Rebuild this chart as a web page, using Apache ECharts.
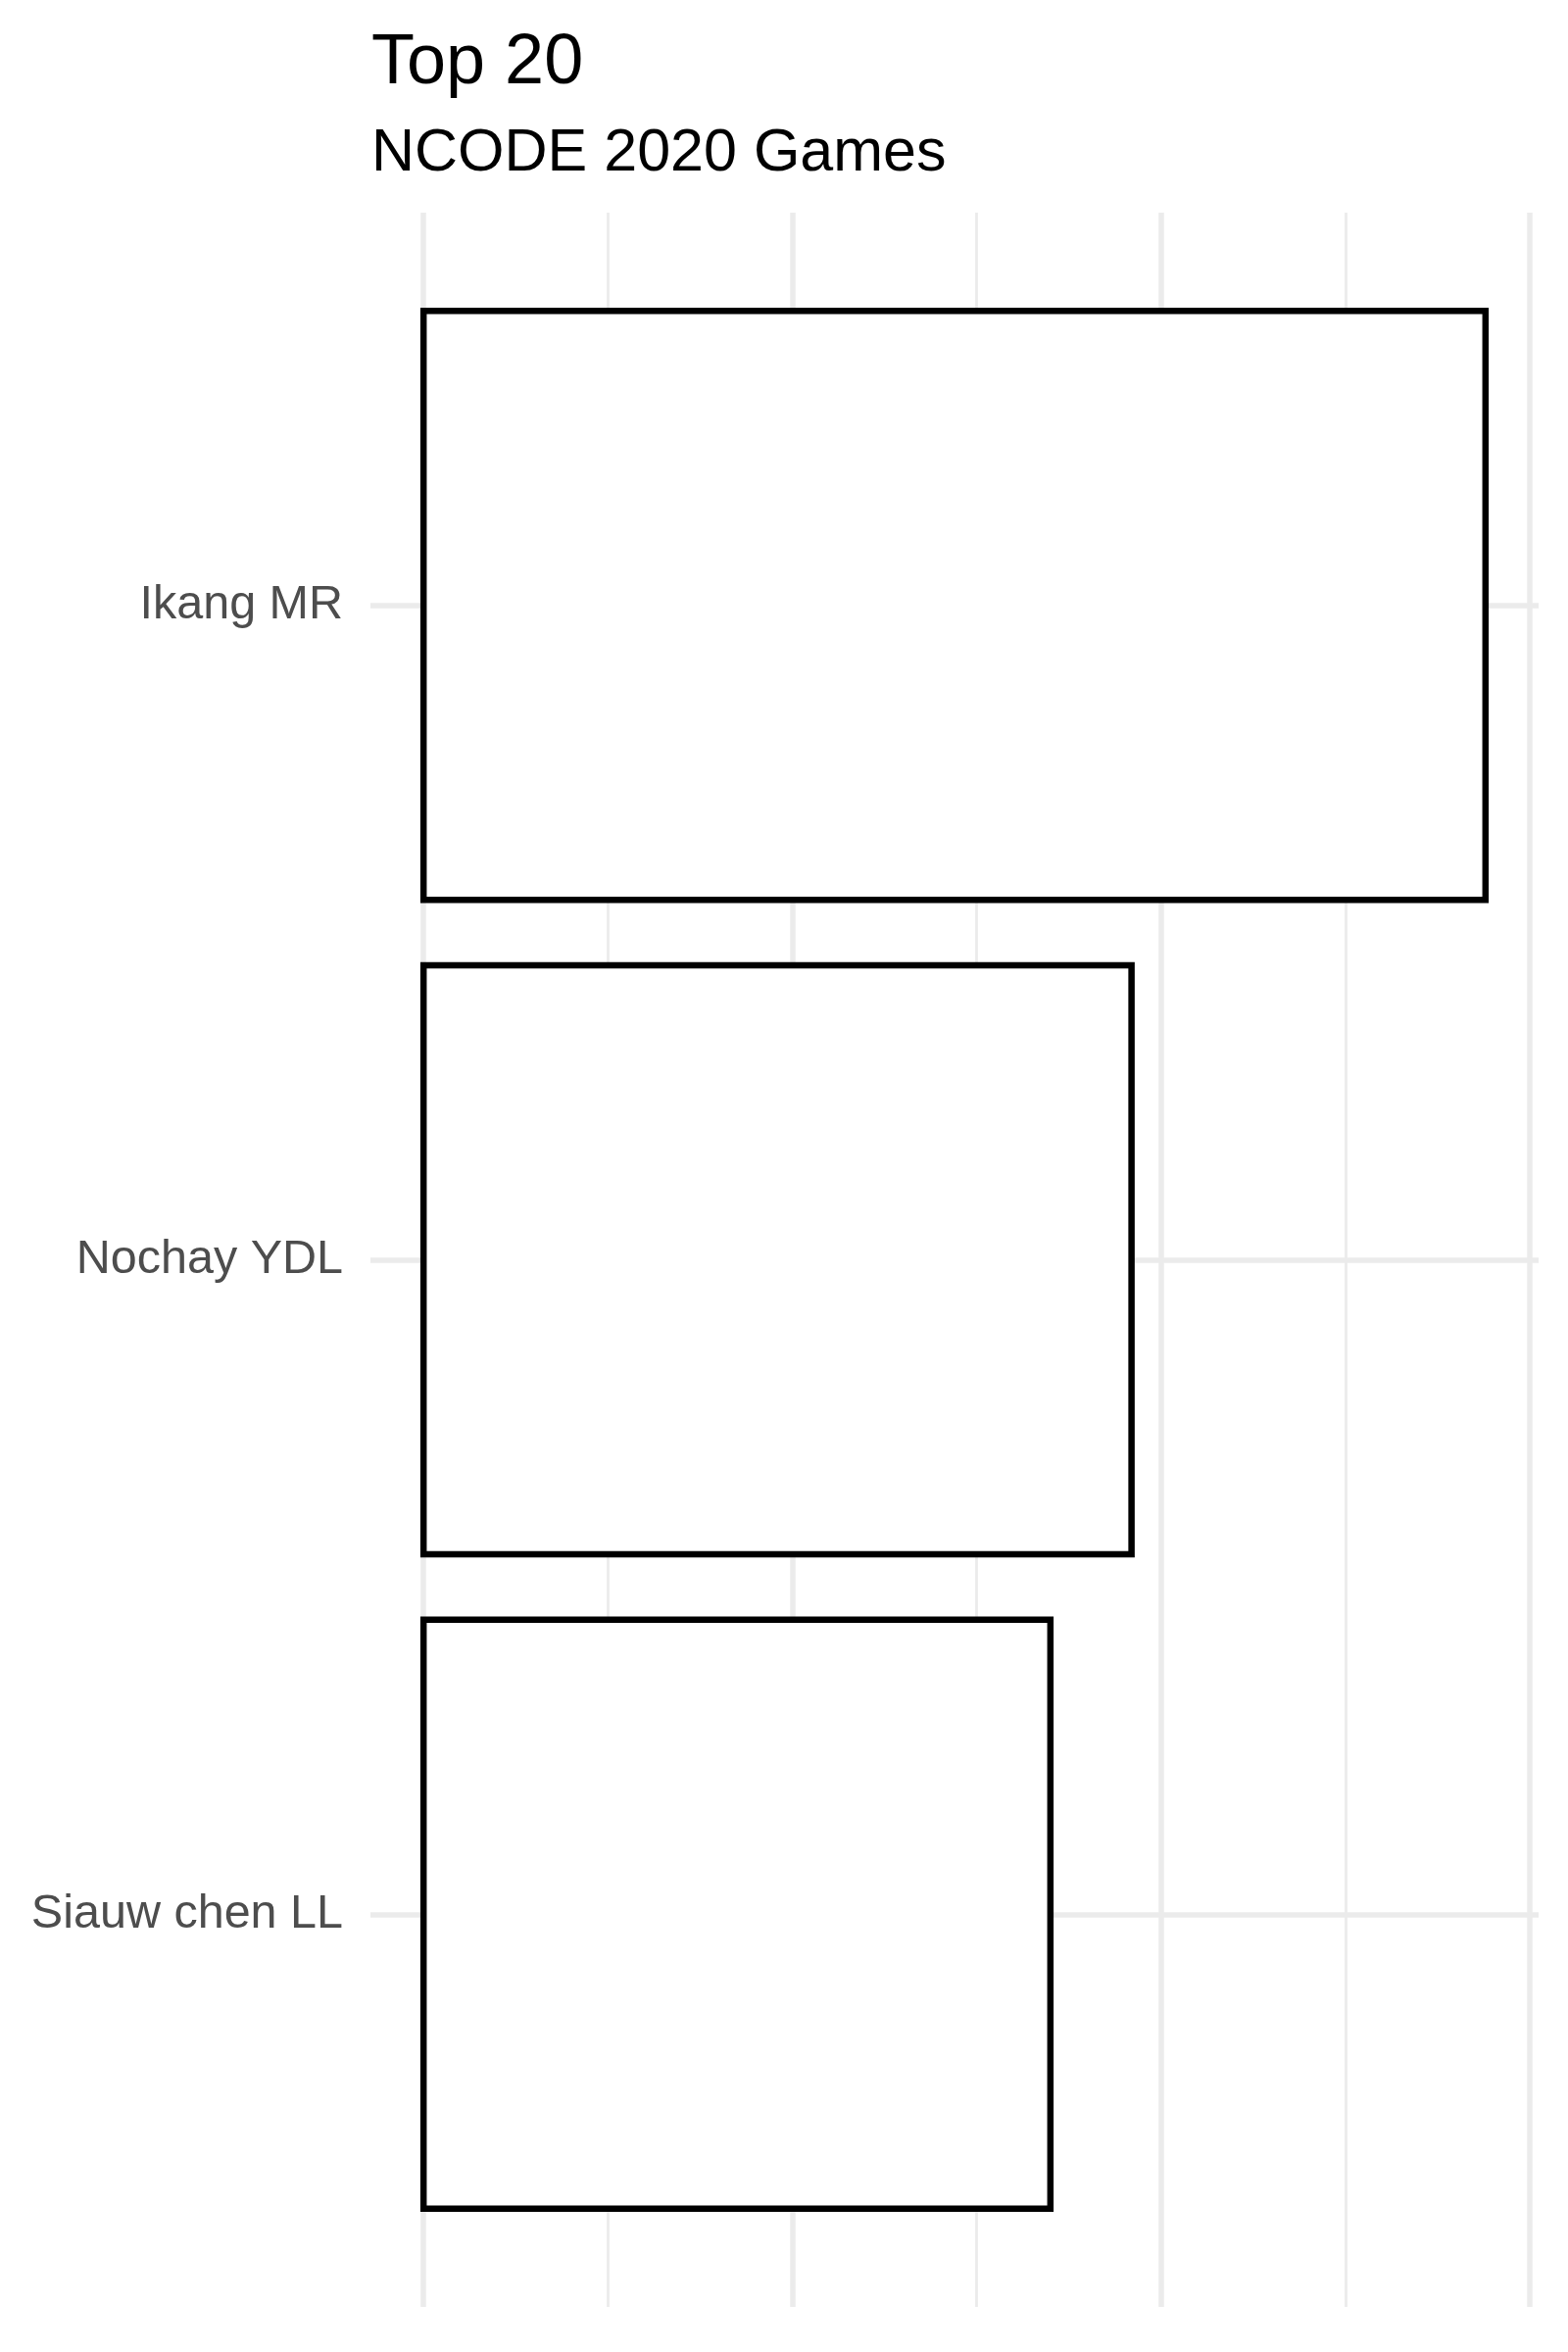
<!DOCTYPE html>
<html>
<head>
<meta charset="utf-8">
<script src="https://cdn.jsdelivr.net/npm/echarts@6/dist/echarts.min.js"></script>
<style>
html,body{margin:0;padding:0;background:#fff;}
#chart{width:1600px;height:2400px;}
</style>
</head>
<body>
<div id="chart"></div>
<script>
const titleText = 'Top 20';
const subtitleText = 'NCODE 2020 Games';
const categories = ['Ikang MR', 'Nochay YDL', 'Siauw chen LL'];
const values = [144, 96, 85];
const xMajorStep = 50;
const xBreakMin = 0;
const xBreakMax = 150;
const xRangeMin = -7.2;
const xRangeMax = 151.2;

const FONT = '"Liberation Sans", Arial, Helvetica, sans-serif';
const chart = echarts.init(document.getElementById('chart'), null, {renderer: 'canvas'});

const panelLeft = 378, panelRight = 1570, panelTop = 217, panelBottom = 2354;
const pxPerUnit = (panelRight - panelLeft) / (xRangeMax - xRangeMin);
const bandPx = (panelBottom - panelTop) / (categories.length + 0.2);
const gridBLeft = panelLeft + (xBreakMin - xRangeMin) * pxPerUnit;
const gridBWidth = (xBreakMax - xBreakMin) * pxPerUnit;

const barData = values.map((v, i) => [v, i]);

const option = {
  backgroundColor: '#ffffff',
  animation: false,
  title: [
    {text: titleText, left: 379, top: 29, padding: 0,
     textStyle: {fontFamily: FONT, fontSize: 72, fontWeight: 'normal', color: '#000000', lineHeight: 72}},
    {text: subtitleText, left: 379, top: 127, padding: 0,
     textStyle: {fontFamily: FONT, fontSize: 61, fontWeight: 'normal', color: '#000000', lineHeight: 61}}
  ],
  grid: [
    {left: panelLeft, width: panelRight - panelLeft, top: panelTop + 0.1 * bandPx,
     height: (panelBottom - panelTop) - 0.2 * bandPx, containLabel: false},
    {left: gridBLeft, width: gridBWidth, top: panelTop, height: panelBottom - panelTop, containLabel: false}
  ],
  xAxis: [
    {type: 'value', gridIndex: 0, min: xRangeMin, max: xRangeMax, show: false,
     axisLine: {onZero: false}, splitLine: {show: false}},
    {type: 'value', gridIndex: 1, min: xBreakMin, max: xBreakMax, interval: xMajorStep,
     axisLine: {show: false, onZero: false}, axisTick: {show: false}, axisLabel: {show: false},
     splitLine: {show: true, lineStyle: {color: '#EBEBEB', width: 5.5}},
     minorTick: {show: false, splitNumber: 2},
     minorSplitLine: {show: true, lineStyle: {color: '#EBEBEB', width: 2.75}}}
  ],
  yAxis: [
    {type: 'category', gridIndex: 0, data: categories, inverse: true, position: 'left',
     axisLine: {show: false, onZero: false},
     axisTick: {show: true, inside: true, alignWithLabel: true, length: panelRight - panelLeft,
                lineStyle: {color: '#EBEBEB', width: 5.5}},
     axisLabel: {show: true, margin: 28, fontFamily: FONT, fontSize: 48.5, color: '#4D4D4D'},
     splitLine: {show: false}},
    {type: 'value', gridIndex: 1, show: false, min: 0, max: 1,
     axisLine: {onZero: false}, splitLine: {show: false}}
  ],
  series: [
    {type: 'custom', xAxisIndex: 0, yAxisIndex: 0, data: barData,
     encode: {x: 0, y: 1}, silent: true, z: 5,
     renderItem: function (params, api) {
       const idx = api.value(1);
       const start = api.coord([0, idx]);
       const end = api.coord([api.value(0), idx]);
       const band = api.size([0, 1])[1];
       const h = band * 0.9;
       return {
         type: 'rect',
         shape: {x: start[0], y: start[1] - h / 2, width: end[0] - start[0], height: h},
         style: {fill: '#ffffff', stroke: '#000000', lineWidth: 6.5, lineJoin: 'miter'}
       };
     }}
  ]
};
chart.setOption(option);
</script>
</body>
</html>
